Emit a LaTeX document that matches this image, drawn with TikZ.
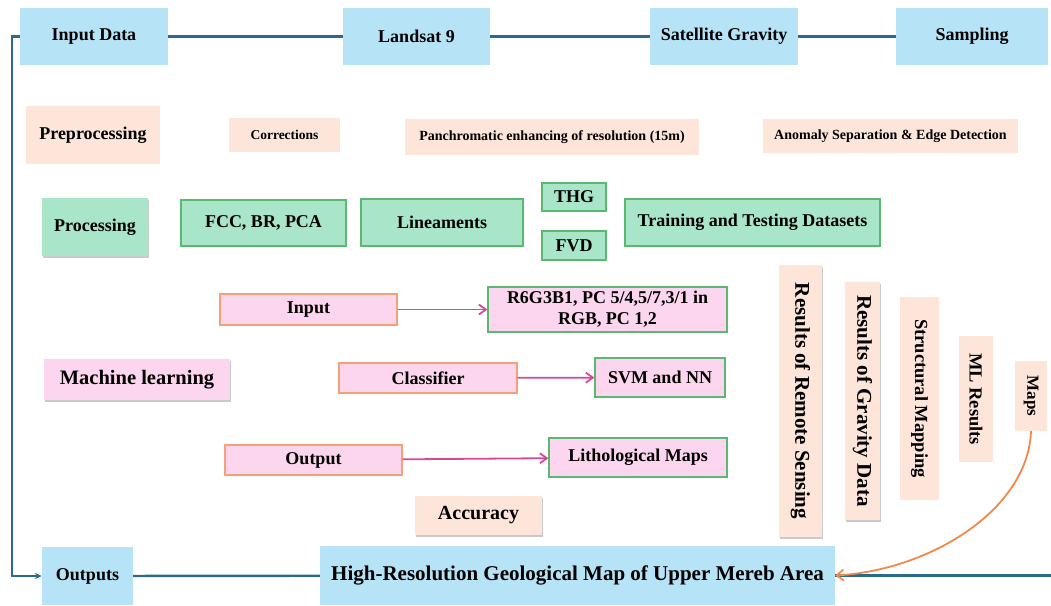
\documentclass[tikz,border=0pt]{standalone}
\usepackage{fontspec}
\setmainfont{Liberation Serif}
\usetikzlibrary{arrows.meta,shadows}

\definecolor{skyfill}{HTML}{B6E3F6}
\definecolor{peachfill}{HTML}{FDE5D9}
\definecolor{mintfill}{HTML}{A9E5C8}
\definecolor{mintline}{HTML}{5CB870}
\definecolor{pinkfill}{HTML}{FCD5EE}
\definecolor{pinkline}{HTML}{F5A078}
\definecolor{flowblue}{HTML}{2A6A8C}
\definecolor{mlarrow}{HTML}{D6489A}
\definecolor{maparrow}{HTML}{F2884A}

\tikzset{
  base/.style={inner sep=0pt, align=center, font=\bfseries\fontsize{18}{21}\selectfont},
  sz/.style 2 args={minimum width=#1pt, minimum height=#2pt},
  skybox/.style={base, fill=skyfill},
  peachbox/.style={base, fill=peachfill},
  smallpeach/.style={peachbox, font=\bfseries\fontsize{14}{16}\selectfont},
  mintbox/.style={base, fill=mintfill},
  mintframe/.style={mintbox, draw=mintline, line width=1.2pt},
  pinkbox/.style={base, fill=pinkfill},
  pinkframe/.style={pinkbox, draw=pinkline, line width=1.2pt},
  pinkgreen/.style={pinkbox, draw=mintline, line width=1.2pt},
  softshadow/.style={drop shadow={shadow xshift=0.8pt, shadow yshift=-1.8pt, opacity=0.35, fill=black!60}},
  upright/.style={rotate=-90},
  flow/.style={draw=flowblue, line width=2.4pt},
  mlflow/.style={draw=mlarrow, line width=1.8pt, -{Straight Barb[length=7pt,width=10pt]}},
}

\begin{document}
\begin{tikzpicture}[x=1pt,y=-1pt]
\useasboundingbox (0,0) rectangle (1051,605);

% data sources
\node[skybox, sz={148}{57}] (inp)  at (94,36.5)   {Input Data};
\node[skybox, sz={147}{57}] (land) at (416.5,36.5) {Landsat 9};
\node[skybox, sz={148}{57}] (grav) at (724,36.5)  {Satellite Gravity};
\node[skybox, sz={152}{57}] (samp) at (972,36.5)  {Sampling};

% preprocessing
\node[peachbox, sz={134}{58}] (prep) at (93,135) {Preprocessing};
\node[smallpeach, sz={111}{34}, font=\bfseries\fontsize{13.5}{15}\selectfont] (corr) at (284.5,135) {Corrections};
\node[smallpeach, sz={294}{36}] (pan)  at (552,137) {Panchromatic enhancing of resolution (15m)};
\node[smallpeach, sz={255}{34}] (anom) at (890.5,136) {Anomaly Separation \& Edge Detection};

% processing
\node[mintbox, sz={106}{58}, softshadow] (proc) at (95,227) {Processing};
\node[mintframe, sz={165}{46}] (fcc)   at (263.5,223) {FCC, BR, PCA};
\node[mintframe, sz={162}{47}] (linea) at (442,222.5) {Lineaments};
\node[mintframe, sz={64}{28}]  (thg)   at (574,197)   {THG};
\node[mintframe, sz={64}{29}]  (fvd)   at (574,245.5) {FVD};
\node[mintframe, sz={255}{47}] (train) at (752.5,222.5) {Training and Testing Datasets};

% machine learning
\node[pinkbox, sz={186}{41}, softshadow, font=\bfseries\fontsize{20.5}{23}\selectfont] (ml) at (137,379.5) {Machine learning};
\node[pinkframe, sz={177}{31}] (minp) at (308.5,309.5) {Input};
\node[pinkgreen, sz={239}{45}] (rgb)  at (607.5,309.5) {R6G3B1, PC 5/4,5/7,3/1 in\\RGB, PC 1,2};
\node[pinkframe, sz={178}{30}] (cls)  at (428,378)    {Classifier};
\node[pinkgreen, sz={130}{39}] (svm)  at (660,377.5)  {SVM and NN};
\node[pinkframe, sz={177}{30}] (outp) at (313.5,460)  {Output};
\node[pinkgreen, sz={178}{39}] (lith) at (638,457.5)  {Lithological Maps};
\node[peachbox, sz={127}{39}, softshadow, font=\bfseries\fontsize{20}{22}\selectfont] (acc) at (478.5,515.5) {Accuracy};

% results column
\node[peachbox, upright, sz={272}{43}, softshadow, font=\bfseries\fontsize{21}{23}\selectfont] (rrs) at (800.5,401) {Results of Remote Sensing};
\node[peachbox, upright, sz={238}{35}, softshadow, font=\bfseries\fontsize{21}{23}\selectfont] (rgd) at (862.5,401) {Results of Gravity Data};
\node[peachbox, upright, sz={203}{39}, font=\bfseries\fontsize{18.5}{20}\selectfont] (stm) at (919.5,398.5) {Structural Mapping};
\node[peachbox, upright, sz={126}{34}, font=\bfseries\fontsize{18.5}{20}\selectfont] (mlr) at (976,399) {ML Results};
\node[peachbox, upright, sz={70}{32}, font=\bfseries\fontsize{17}{19}\selectfont] (maps) at (1031,396) {Maps};

% outputs
\node[skybox, sz={91}{58}] (outs) at (87.5,576) {Outputs};
\node[skybox, sz={515}{59}, font=\bfseries\fontsize{21}{23}\selectfont] (hres) at (577.5,575.5) {High-Resolution Geological Map of Upper Mereb Area};
\coordinate (rimR) at (1051,575.5);

% main flow lines
\draw[flow] (inp) -- (land);
\draw[flow] (land) -- (grav);
\draw[flow] (grav) -- (samp);
\draw[flow, -{Stealth[length=7pt,width=6pt]}] (inp.west) -- ++(-8,0) |- (outs.west);
\draw[flow] (outs) -- (hres);
\draw[flow] (hres.east) -- (rimR);

% machine learning links
\draw[mlflow] (minp) -- (rgb);
\draw[mlflow] (cls) -- (svm);
\draw[mlflow] (outp) -- (lith);

% maps feed the final product
\draw[draw=maparrow, line width=1.8pt, -{Straight Barb[length=7pt,width=11pt]}]
  (maps.east) .. controls (1028,510) and (930,570) .. (hres.east);
\end{tikzpicture}
\end{document}
